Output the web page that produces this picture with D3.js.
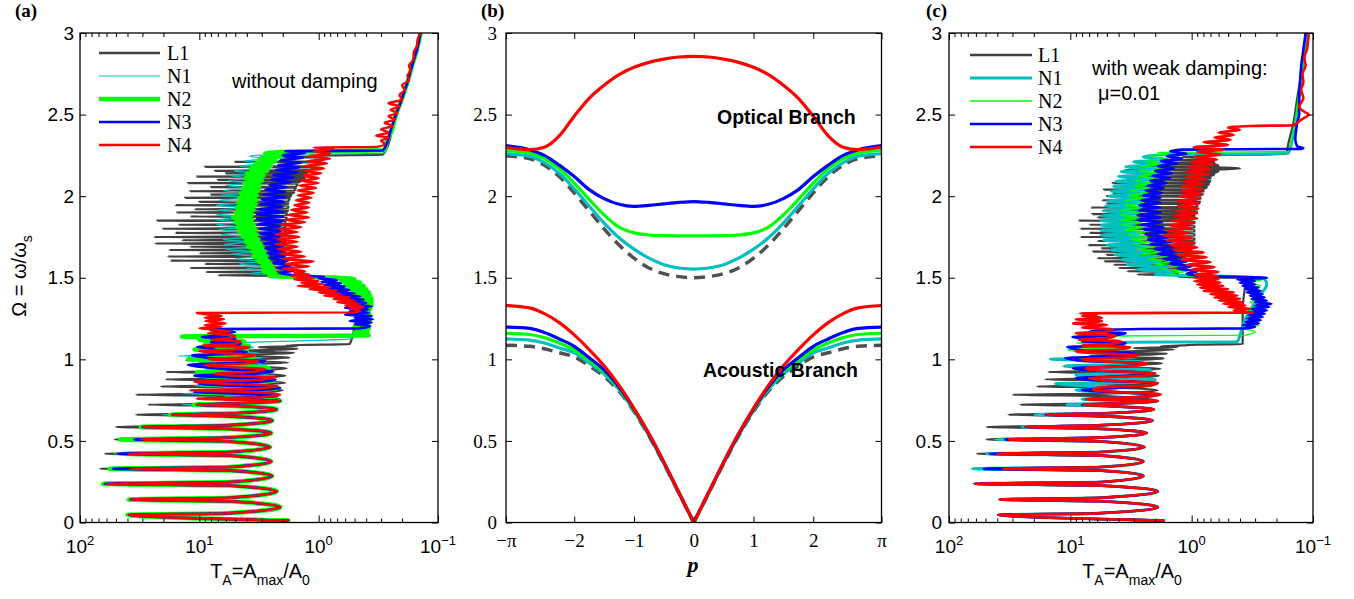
<!DOCTYPE html>
<html><head><meta charset="utf-8">
<script src="https://cdn.jsdelivr.net/npm/d3@7"></script>
<style>body{margin:0;background:#fff}svg{display:block}</style>
</head><body>
<script>
// ---------------- DATA ----------------
const seriesNames = ['L1','N1','N2','N3','N4'];
const seriesColors = ['#404040','#00bfbf','#00ff00','#0000ff','#ff0000'];

// panel (a) / (c): [Omega, T_A]
const a_L1 = [[0.012,1.85],[0.047,40],[0.056,6],[0.094,2.1],[0.13,5.5],[0.141,39],[0.152,5.5],[0.19,2.25],[0.226,5.5],[0.237,66],[0.248,5.5],[0.285,2.45],[0.318,5.5],[0.329,68],[0.34,5.5],[0.374,2.5],[0.41,5.5],[0.421,62],[0.432,5.5],[0.462,2.55],[0.498,6],[0.509,51],[0.52,6],[0.548,2.5],[0.575,6],[0.585,50],[0.595,6],[0.625,2.45],[0.652,6],[0.661,34],[0.67,5],[0.693,2.25],[0.714,5],[0.722,27],[0.73,5],[0.755,2.1],[0.775,5],[0.783,34],[0.79,5],[0.81,2.0],[0.828,5],[0.834,21],[0.84,5],[0.856,1.9],[0.872,5],[0.877,19],[0.883,5],[0.90,1.9],[0.916,5],[0.922,19],[0.928,5],[0.945,1.85],[0.958,5],[0.963,12],[0.968,5],[0.98,1.8],[0.99,5],[0.994,13],[0.999,5],[1.01,1.75],[1.02,4],[1.025,7.4],[1.03,4],[1.04,1.6],[1.047,3.5],[1.052,4.6],[1.057,3],[1.064,1.5],[1.07,2.6],[1.075,3.2],[1.08,1.5],[1.084,1.9],[1.088,1.45],[1.093,0.55],[1.2,0.5],[1.3,0.47],[1.4,0.48],[1.49,0.55],[1.50,1.0],[1.505,1.9],
[1.511,1.9],[1.515,7.0],[1.519,1.9],[1.531,1.9],[1.535,8.8],[1.539,1.9],[1.556,1.9],[1.56,12],[1.564,1.9],[1.581,1.9],[1.585,9],[1.589,1.9],[1.601,1.9],[1.605,17.6],[1.609,1.9],[1.626,1.9],[1.63,18.5],[1.634,1.9],[1.646,1.9],[1.65,10],[1.654,1.9],[1.666,1.9],[1.67,18],[1.674,1.9],[1.686,1.9],[1.69,12],[1.694,1.9],[1.706,1.9],[1.71,23.5],[1.714,1.9],[1.726,1.9],[1.73,14],[1.734,1.9],[1.746,1.9],[1.75,24],[1.754,1.9],[1.771,1.9],[1.775,16],[1.779,1.9],[1.796,1.9],[1.80,20.5],[1.804,1.9],[1.821,1.9],[1.825,15],[1.829,1.9],[1.846,1.9],[1.85,22.5],[1.854,1.9],[1.871,1.85],[1.875,12],[1.879,1.85],[1.896,1.85],[1.90,15.4],[1.904,1.85],[1.916,1.8],[1.92,11],[1.924,1.8],[1.941,1.8],[1.945,16],[1.949,1.8],[1.961,1.8],[1.965,10],[1.969,1.8],[1.986,1.75],[1.99,13.2],[1.994,1.75],[2.006,1.7],[2.01,8],[2.014,1.7],[2.026,1.6],[2.03,12],[2.034,1.6],[2.051,1.55],[2.055,8],[2.059,1.55],[2.076,1.5],[2.08,12.5],[2.084,1.5],[2.096,1.4],[2.10,7],[2.104,1.4],[2.116,1.3],[2.12,10.5],[2.124,1.3],[2.136,1.25],[2.14,6],[2.144,1.25],[2.151,1.2],[2.155,7.4],[2.159,1.2],[2.176,1.1],[2.18,9],[2.184,1.1],[2.206,1.0],[2.21,5],[2.214,1.0],[2.236,0.9],[2.24,3.1],[2.244,0.9],[2.248,1.0],[2.254,0.29],[2.32,0.26],[2.42,0.24],[2.51,0.22],[2.65,0.189],[2.81,0.165],[3.0,0.141]];

const a_N1 = [[0.012,1.8],[0.047,39],[0.056,6],[0.094,2.1],[0.13,5.5],[0.141,38],[0.152,5.5],[0.19,2.25],[0.226,5.5],[0.237,60],[0.248,5.5],[0.285,2.45],[0.318,5.5],[0.329,55],[0.34,5.5],[0.374,2.5],[0.41,5.5],[0.421,53],[0.432,5.5],[0.462,2.55],[0.498,6],[0.509,31],[0.52,6],[0.548,2.5],[0.575,6],[0.585,30],[0.595,6],[0.625,2.45],[0.652,6],[0.661,20.6],[0.67,5],[0.693,2.25],[0.714,5],[0.722,14],[0.73,5],[0.745,2.1],[0.76,5],[0.775,2.3],[0.79,14],[0.80,4],[0.815,2.2],[0.83,6],[0.84,11],[0.85,4],[0.865,2.3],[0.88,6],[0.89,10],[0.9,4],[0.915,2.5],[0.93,6],[0.94,9],[0.95,4],[0.965,2.7],[0.98,6],[0.99,8],[1.0,4],[1.01,3],[1.02,15],[1.03,4.5],[1.04,3.2],[1.055,8],[1.065,4],[1.075,3.5],[1.085,7],[1.095,5.5],[1.10,5.0],[1.125,0.55],[1.135,0.5],[1.2,0.48],[1.3,0.45],[1.4,0.47],[1.48,0.55],[1.50,0.7],[1.51,1.5],[1.525,3.8],[1.54,2.6],[1.555,4.0],[1.57,2.8],[1.585,4.6],[1.6,3.0],[1.615,5.0],[1.63,3.2],[1.645,5.4],[1.66,3.4],[1.675,6.0],[1.69,3.6],[1.705,6.2],[1.72,3.8],[1.735,6.3],[1.75,3.9],[1.765,6.5],[1.78,4.0],[1.795,6.8],[1.81,4.1],[1.825,7.2],[1.84,4.2],[1.855,7.4],[1.87,4.2],[1.885,7.2],[1.90,4.2],[1.915,7.0],[1.93,4.1],[1.945,7.2],[1.96,4.1],[1.975,6.8],[1.99,4.0],[2.005,6.6],[2.02,3.9],[2.035,6.3],[2.05,3.8],[2.065,6.0],[2.08,3.7],[2.095,5.7],[2.11,3.6],[2.125,5.4],[2.14,3.4],[2.155,5.1],[2.17,3.2],[2.185,4.6],[2.2,3.0],[2.215,4.2],[2.23,2.8],[2.245,3.8],[2.255,2.5],[2.262,0.28],[2.32,0.265],[2.4,0.245],[2.5,0.225],[2.6,0.2],[2.7,0.18],[2.8,0.165],[2.9,0.15],[3.0,0.14]];

const a_N2 = [[0.012,1.8],[0.047,40],[0.056,6],[0.094,2.1],[0.13,5.5],[0.141,39],[0.152,5.5],[0.19,2.25],[0.226,5.5],[0.237,64],[0.248,5.5],[0.285,2.45],[0.318,5.5],[0.329,57],[0.34,5.5],[0.374,2.5],[0.41,5.5],[0.421,42],[0.432,5.5],[0.462,2.55],[0.498,6],[0.509,46],[0.52,6],[0.548,2.5],[0.575,6],[0.585,31],[0.595,6],[0.625,2.45],[0.652,6],[0.661,17.5],[0.67,5],[0.693,2.25],[0.714,5],[0.722,11],[0.73,5],[0.745,2.1],[0.76,6],[0.775,2.3],[0.79,5],[0.80,10.2],[0.81,4],[0.825,2.2],[0.84,5],[0.85,9.9],[0.86,4],[0.875,2.4],[0.89,5],[0.90,9],[0.91,4],[0.92,10.5],[0.93,3.5],[0.945,2.6],[0.96,6],[0.97,10],[0.98,4],[0.99,3],[1.0,12.4],[1.01,4.5],[1.02,3.5],[1.03,8],[1.04,5],[1.05,4],[1.06,11],[1.07,5],[1.08,3.8],[1.09,9],[1.10,5],[1.11,4.2],[1.12,10],[1.13,5],[1.14,14],[1.147,0.38],[1.16,0.5],[1.17,0.39],[1.18,0.48],[1.19,0.38],[1.2,0.5],[1.21,0.39],[1.22,0.47],[1.23,0.37],[1.24,0.45],[1.25,0.37],[1.26,0.46],[1.27,0.37],[1.28,0.44],[1.29,0.38],[1.30,0.47],[1.31,0.37],[1.32,0.45],[1.33,0.36],[1.34,0.45],[1.35,0.36],[1.36,0.44],[1.37,0.36],[1.38,0.46],[1.39,0.37],[1.40,0.5],[1.41,0.38],[1.42,0.52],[1.43,0.4],[1.44,0.56],[1.45,0.42],[1.46,0.6],[1.47,0.45],[1.48,0.65],[1.49,0.5],[1.50,0.7],[1.51,2.6],[1.525,2.3],[1.54,2.9],[1.555,2.4],[1.57,3.0],[1.585,2.5],[1.60,3.2],[1.615,2.6],[1.63,3.5],[1.645,2.7],[1.66,3.6],[1.675,2.8],[1.69,3.9],[1.705,3.0],[1.72,4.1],[1.735,3.2],[1.75,4.3],[1.765,3.3],[1.78,4.6],[1.795,3.4],[1.81,4.8],[1.825,3.5],[1.84,5.0],[1.855,3.6],[1.87,5.2],[1.885,3.6],[1.90,5.0],[1.915,3.5],[1.93,4.9],[1.945,3.4],[1.96,4.7],[1.975,3.3],[1.99,4.6],[2.005,3.3],[2.02,4.5],[2.035,3.2],[2.05,4.3],[2.065,3.1],[2.08,4.2],[2.095,3.0],[2.11,4.1],[2.125,2.9],[2.14,4.0],[2.155,2.7],[2.17,3.7],[2.185,2.5],[2.20,3.4],[2.215,2.3],[2.23,3.1],[2.245,2.0],[2.26,2.8],[2.272,1.8],[2.282,0.28],[2.33,0.27],[2.4,0.245],[2.5,0.225],[2.6,0.2],[2.7,0.18],[2.8,0.165],[2.9,0.15],[3.0,0.14]];

const a_N3 = [[0.012,1.8],[0.047,39],[0.056,6],[0.094,2.1],[0.13,5.5],[0.141,38],[0.152,5.5],[0.19,2.25],[0.226,5.5],[0.237,62],[0.248,5.5],[0.285,2.45],[0.318,5.5],[0.329,53],[0.34,5.5],[0.374,2.5],[0.41,5.5],[0.421,48],[0.432,5.5],[0.462,2.55],[0.498,6],[0.509,35],[0.52,6],[0.548,2.5],[0.575,6],[0.585,30],[0.595,6],[0.625,2.45],[0.652,6],[0.661,17],[0.67,5],[0.693,2.25],[0.714,5],[0.722,10.5],[0.73,5],[0.745,2.1],[0.76,6],[0.775,2.2],[0.79,5],[0.80,11],[0.81,4],[0.825,2.1],[0.84,6],[0.85,10],[0.86,3.5],[0.875,2.3],[0.89,6],[0.90,11],[0.91,4],[0.925,2.4],[0.94,6],[0.955,10],[0.967,12.5],[0.978,4.5],[0.99,2.8],[1.0,6],[1.012,9],[1.025,11.5],[1.035,5],[1.045,4],[1.055,7],[1.065,8],[1.075,10.4],[1.085,5],[1.095,4.5],[1.105,8],[1.115,6],[1.125,5],[1.137,9.5],[1.147,5.5],[1.157,7],[1.167,5],[1.177,8],[1.185,8.1],[1.19,0.45],[1.205,0.37],[1.215,0.5],[1.225,0.36],[1.235,0.55],[1.245,0.35],[1.255,0.5],[1.265,0.36],[1.275,0.6],[1.285,0.38],[1.295,0.55],[1.305,0.38],[1.315,0.6],[1.325,0.36],[1.335,0.55],[1.345,0.4],[1.355,0.65],[1.365,0.42],[1.375,0.7],[1.385,0.45],[1.395,0.75],[1.405,0.5],[1.415,0.8],[1.425,0.55],[1.435,0.85],[1.445,0.6],[1.455,0.9],[1.465,0.65],[1.475,0.95],[1.485,0.7],[1.495,1.0],[1.505,0.9],[1.515,1.6],[1.53,2.1],[1.545,1.6],[1.56,2.2],[1.575,1.7],[1.59,2.4],[1.605,1.8],[1.62,2.6],[1.635,1.9],[1.65,2.7],[1.665,2.0],[1.68,2.8],[1.695,2.0],[1.71,2.9],[1.725,2.1],[1.74,3.0],[1.755,2.1],[1.77,3.1],[1.785,2.1],[1.80,3.1],[1.815,2.1],[1.83,3.2],[1.845,2.0],[1.86,3.3],[1.875,2.0],[1.89,3.3],[1.905,2.0],[1.92,3.2],[1.935,2.0],[1.95,3.1],[1.965,1.95],[1.98,3.0],[1.995,1.9],[2.01,2.9],[2.025,1.9],[2.04,2.8],[2.055,1.85],[2.07,2.6],[2.085,1.7],[2.10,2.5],[2.115,1.6],[2.13,2.4],[2.145,1.5],[2.16,2.3],[2.175,1.45],[2.19,2.2],[2.205,1.4],[2.22,2.1],[2.235,1.35],[2.25,2.0],[2.265,1.3],[2.275,1.9],[2.28,0.29],[2.32,0.27],[2.4,0.25],[2.5,0.225],[2.6,0.2],[2.7,0.18],[2.8,0.165],[2.9,0.15],[3.0,0.14]];

const a_N4 = [[0.012,1.8],[0.047,39],[0.056,6],[0.094,2.1],[0.13,5.5],[0.141,38],[0.152,5.5],[0.19,2.25],[0.226,5.5],[0.237,60],[0.248,5.5],[0.285,2.45],[0.318,5.5],[0.329,38],[0.34,5.5],[0.374,2.5],[0.41,5.5],[0.421,39],[0.432,5.5],[0.462,2.55],[0.498,6],[0.509,31],[0.52,6],[0.548,2.5],[0.575,6],[0.585,30],[0.595,6],[0.625,2.45],[0.652,6],[0.661,17],[0.67,5],[0.693,2.25],[0.714,5],[0.722,10.5],[0.73,5],[0.745,2.1],[0.759,10.5],[0.768,3],[0.783,2.1],[0.80,4],[0.81,12],[0.82,3.5],[0.836,2.2],[0.85,6],[0.862,11],[0.875,3.2],[0.89,2.3],[0.9,5],[0.912,7.6],[0.925,3.5],[0.94,2.8],[0.955,6],[0.965,9],[0.975,4],[0.99,3.2],[1.0,8.5],[1.012,4.5],[1.025,3.4],[1.04,7],[1.05,10],[1.06,5],[1.075,3.8],[1.085,9.5],[1.095,5],[1.11,4.5],[1.12,8],[1.13,5.5],[1.145,5],[1.16,8.5],[1.17,5.5],[1.18,7],[1.19,10],[1.2,6.5],[1.21,9],[1.22,6],[1.235,8.9],[1.245,6.2],[1.255,9],[1.265,6.5],[1.275,8.5],[1.284,10.5],[1.288,0.5],[1.30,0.45],[1.31,0.55],[1.32,0.42],[1.33,0.6],[1.34,0.45],[1.35,0.7],[1.36,0.5],[1.37,0.75],[1.38,0.55],[1.39,0.9],[1.40,0.65],[1.41,1.0],[1.42,0.7],[1.43,1.2],[1.44,0.8],[1.45,1.5],[1.46,0.9],[1.47,1.4],[1.48,1.0],[1.49,1.6],[1.50,1.1],[1.51,1.7],[1.52,1.2],[1.53,1.6],[1.54,1.3],[1.555,2.0],[1.57,1.2],[1.585,1.9],[1.60,1.1],[1.615,2.0],[1.63,1.3],[1.645,2.1],[1.66,1.4],[1.675,2.2],[1.69,1.5],[1.705,2.3],[1.72,1.5],[1.735,2.2],[1.75,1.45],[1.765,2.3],[1.78,1.5],[1.795,2.1],[1.81,1.4],[1.825,2.0],[1.84,1.3],[1.855,1.9],[1.87,1.2],[1.885,1.8],[1.90,1.25],[1.915,1.7],[1.93,1.2],[1.945,1.6],[1.96,1.2],[1.975,1.55],[1.99,1.15],[2.005,1.5],[2.02,1.1],[2.035,1.5],[2.05,1.05],[2.065,1.45],[2.08,1.0],[2.095,1.4],[2.11,1.0],[2.125,1.35],[2.14,0.95],[2.155,1.3],[2.17,0.9],[2.185,1.3],[2.2,0.85],[2.215,1.25],[2.23,0.8],[2.245,1.2],[2.26,0.8],[2.275,1.1],[2.29,0.75],[2.298,1.1],[2.302,0.33],[2.32,0.28],[2.34,0.30],[2.36,0.26],[2.37,0.33],[2.39,0.26],[2.41,0.3],[2.43,0.24],[2.45,0.28],[2.47,0.23],[2.49,0.26],[2.51,0.22],[2.53,0.25],[2.55,0.21],[2.57,0.26],[2.59,0.2],[2.62,0.21],[2.65,0.19],[2.68,0.2],[2.71,0.175],[2.74,0.18],[2.77,0.17],[2.8,0.175],[2.84,0.16],[2.88,0.16],[2.92,0.15],[2.96,0.148],[3.0,0.14]];

const c_L1 = [[0.012,1.75],[0.047,40],[0.056,6],[0.094,1.9],[0.13,5.5],[0.141,39],[0.152,5.5],[0.19,1.9],[0.226,5.5],[0.237,63],[0.248,5.5],[0.285,2.5],[0.318,5.5],[0.329,64],[0.34,5.5],[0.374,2.5],[0.41,5.5],[0.421,59],[0.432,5.5],[0.462,2.45],[0.498,6],[0.509,49],[0.52,6],[0.548,2.35],[0.575,6],[0.585,49],[0.595,6],[0.625,2.1],[0.652,6],[0.661,32.5],[0.67,5],[0.693,2.05],[0.714,5],[0.722,25.9],[0.73,5],[0.745,1.9],[0.775,5],[0.783,30],[0.79,5],[0.81,1.9],[0.828,5],[0.834,18.8],[0.84,5],[0.856,1.9],[0.872,5],[0.877,16.1],[0.883,5],[0.90,1.85],[0.916,5],[0.922,15.2],[0.928,5],[0.942,1.8],[0.952,5],[0.957,11.4],[0.962,5],[0.975,1.75],[0.985,5],[0.99,9],[0.995,4],[1.005,1.7],[1.015,4],[1.02,7],[1.025,3.5],[1.035,1.6],[1.04,3.2],[1.045,4.5],[1.05,2.8],[1.06,1.4],[1.065,2.4],[1.07,3.0],[1.075,1.3],[1.08,1.8],[1.085,1.2],[1.09,0.9],[1.093,0.38],[1.2,0.38],[1.3,0.38],[1.4,0.37],[1.48,0.36],[1.50,0.4],[1.505,1.3],
[1.516,1.3],[1.52,2.8],[1.524,1.3],[1.536,1.3],[1.54,3.4],[1.544,1.3],[1.556,1.3],[1.56,4.0],[1.564,1.3],[1.576,1.25],[1.58,4.4],[1.584,1.25],[1.596,1.2],[1.60,5.2],[1.604,1.2],[1.616,1.1],[1.62,6.0],[1.624,1.1],[1.636,1.1],[1.64,5],[1.644,1.1],[1.656,1.05],[1.66,6.5],[1.664,1.05],[1.676,1.0],[1.68,5.5],[1.684,1.0],[1.696,0.95],[1.70,7.2],[1.704,0.95],[1.721,0.95],[1.725,6],[1.729,0.95],[1.746,0.95],[1.75,8.3],[1.754,0.95],[1.771,0.95],[1.775,7],[1.779,0.95],[1.796,0.95],[1.80,8.3],[1.804,0.95],[1.821,0.95],[1.825,7],[1.829,0.95],[1.846,0.95],[1.85,8.6],[1.854,0.95],[1.866,0.95],[1.87,6],[1.874,0.95],[1.886,0.95],[1.89,6.6],[1.894,0.95],[1.906,0.9],[1.91,5.5],[1.914,0.9],[1.926,0.9],[1.93,6.8],[1.934,0.9],[1.951,0.9],[1.955,5],[1.959,0.9],[1.971,0.85],[1.975,5.5],[1.979,0.85],[1.996,0.85],[2.0,5.0],[2.004,0.85],[2.016,0.8],[2.02,4.5],[2.024,0.8],[2.036,0.8],[2.04,5.3],[2.044,0.8],[2.056,0.75],[2.06,4],[2.064,0.75],[2.076,0.72],[2.08,4.5],[2.084,0.72],[2.096,0.7],[2.10,3.5],[2.104,0.7],[2.116,0.7],[2.12,4.0],[2.124,0.7],[2.136,0.65],[2.14,3],[2.144,0.65],[2.156,0.6],[2.16,3.5],[2.164,0.6],[2.17,0.4],[2.176,0.6],[2.18,3.0],[2.184,0.6],[2.196,0.65],[2.20,2.2],[2.204,0.65],[2.216,0.7],[2.22,1.8],[2.224,0.7],[2.236,0.75],[2.24,1.2],[2.244,0.75],[2.25,0.8],[2.258,0.167],[2.32,0.16],[2.45,0.145],[2.6,0.135],[2.75,0.125],[2.9,0.118],[3.0,0.114]];

const c_N1 = [[0.012,1.7],[0.047,39],[0.056,6],[0.094,1.9],[0.13,5.5],[0.141,38],[0.152,5.5],[0.19,1.9],[0.226,5.5],[0.237,61],[0.248,5.5],[0.285,2.5],[0.318,5.5],[0.329,64],[0.34,5.5],[0.374,2.5],[0.41,5.5],[0.421,49],[0.432,5.5],[0.462,2.45],[0.498,6],[0.509,40],[0.52,6],[0.548,2.35],[0.575,6],[0.585,25],[0.595,6],[0.625,2.1],[0.652,6],[0.661,19.5],[0.67,5],[0.693,2.05],[0.714,5],[0.722,10.7],[0.73,4],[0.745,1.9],[0.755,8],[0.77,2.6],[0.785,1.9],[0.80,5],[0.812,9],[0.826,4],[0.85,13.3],[0.86,3],[0.875,2.0],[0.89,6],[0.905,9],[0.92,3],[0.935,2.2],[0.95,8],[0.96,11],[0.97,3.5],[0.985,2.6],[0.995,8],[1.0,14.6],[1.01,4],[1.025,3],[1.04,7],[1.05,9],[1.06,4],[1.075,3.5],[1.085,7],[1.095,5],[1.103,6.0],[1.108,0.42],[1.15,0.4],[1.2,0.38],[1.25,0.36],[1.3,0.33],[1.35,0.3],[1.4,0.27],[1.43,0.25],[1.46,0.24],[1.49,0.25],[1.50,0.3],[1.51,0.6],[1.52,2.0],[1.535,1.4],[1.55,2.8],[1.565,1.6],[1.58,3.4],[1.595,1.8],[1.61,3.8],[1.625,2.0],[1.64,4.3],[1.655,2.2],[1.67,4.7],[1.685,2.4],[1.70,5.0],[1.715,2.5],[1.73,5.3],[1.745,2.6],[1.76,5.6],[1.775,2.6],[1.79,5.6],[1.805,2.7],[1.82,5.6],[1.835,2.8],[1.85,5.6],[1.865,2.8],[1.88,5.5],[1.895,2.7],[1.91,5.3],[1.925,2.6],[1.94,5.1],[1.955,2.5],[1.97,4.9],[1.985,2.4],[2.0,4.8],[2.015,2.3],[2.03,4.6],[2.045,2.2],[2.06,4.4],[2.075,2.1],[2.09,4.2],[2.105,2.0],[2.12,4.0],[2.135,1.9],[2.15,3.8],[2.165,1.8],[2.18,3.5],[2.195,1.7],[2.21,3.0],[2.225,1.6],[2.24,2.5],[2.255,1.5],[2.262,0.16],[2.35,0.148],[2.45,0.14],[2.55,0.133],[2.65,0.128],[2.75,0.123],[2.85,0.118],[3.0,0.113]];

const c_N2 = [[0.012,1.7],[0.047,39],[0.056,6],[0.094,1.9],[0.13,5.5],[0.141,38],[0.152,5.5],[0.19,1.9],[0.226,5.5],[0.237,61],[0.248,5.5],[0.285,2.5],[0.318,5.5],[0.329,55],[0.34,5.5],[0.374,2.5],[0.41,5.5],[0.421,45],[0.432,5.5],[0.462,2.45],[0.498,6],[0.509,43],[0.52,6],[0.548,2.35],[0.575,6],[0.585,24],[0.595,6],[0.625,2.1],[0.652,6],[0.661,16],[0.67,5],[0.693,2.05],[0.714,5],[0.722,8],[0.73,4],[0.745,1.9],[0.755,6.5],[0.77,2.6],[0.785,1.9],[0.80,4.5],[0.812,7],[0.826,4],[0.84,2.2],[0.855,2.0],[0.87,6],[0.885,8.5],[0.9,3],[0.915,2.1],[0.93,6],[0.945,9],[0.96,3.2],[0.975,2.5],[0.99,7],[1.0,10],[1.015,4],[1.03,3],[1.045,8],[1.06,10.5],[1.07,4.5],[1.085,3.5],[1.1,9],[1.11,5],[1.12,4],[1.13,8],[1.143,5.0],[1.148,0.36],[1.17,0.3],[1.19,0.38],[1.21,0.28],[1.23,0.36],[1.25,0.28],[1.27,0.35],[1.29,0.27],[1.31,0.35],[1.33,0.27],[1.35,0.33],[1.37,0.27],[1.39,0.33],[1.41,0.28],[1.43,0.34],[1.45,0.27],[1.47,0.33],[1.49,0.26],[1.50,0.34],[1.51,1.0],[1.525,1.5],[1.54,1.1],[1.555,1.8],[1.57,1.3],[1.585,2.0],[1.6,1.5],[1.615,2.3],[1.63,1.6],[1.645,2.6],[1.66,1.8],[1.675,2.8],[1.69,2.0],[1.705,3.0],[1.72,2.2],[1.735,3.2],[1.75,2.3],[1.765,3.4],[1.78,2.4],[1.795,3.6],[1.81,2.5],[1.825,3.8],[1.84,2.6],[1.855,3.9],[1.87,2.7],[1.885,3.9],[1.90,2.7],[1.915,3.8],[1.93,2.6],[1.945,3.6],[1.96,2.5],[1.975,3.5],[1.99,2.4],[2.005,3.4],[2.02,2.3],[2.035,3.2],[2.05,2.2],[2.065,3.0],[2.08,2.1],[2.095,2.9],[2.11,2.0],[2.125,2.8],[2.14,1.9],[2.155,2.7],[2.17,1.8],[2.185,2.6],[2.2,1.8],[2.215,2.4],[2.23,1.7],[2.245,2.2],[2.26,1.6],[2.268,1.9],[2.273,0.16],[2.35,0.15],[2.45,0.14],[2.55,0.135],[2.65,0.13],[2.75,0.125],[2.85,0.12],[3.0,0.115]];

const c_N3 = [[0.012,1.7],[0.047,39],[0.056,6],[0.094,1.9],[0.13,5.5],[0.141,38],[0.152,5.5],[0.19,1.9],[0.226,5.5],[0.237,61],[0.248,5.5],[0.285,2.5],[0.318,5.5],[0.329,52],[0.34,5.5],[0.374,2.5],[0.41,5.5],[0.421,46],[0.432,5.5],[0.462,2.45],[0.498,6],[0.509,34.5],[0.52,6],[0.548,2.35],[0.575,6],[0.585,23.5],[0.595,6],[0.625,2.1],[0.652,6],[0.661,16],[0.67,5],[0.693,2.05],[0.714,5],[0.722,8],[0.73,4],[0.745,1.9],[0.755,7],[0.77,2.6],[0.785,1.9],[0.80,4.5],[0.812,8],[0.826,4],[0.84,2.2],[0.855,2.0],[0.87,6],[0.885,9],[0.9,3],[0.915,2.0],[0.93,6],[0.945,9.5],[0.96,3.2],[0.975,2.4],[0.99,7],[1.008,11],[1.02,4],[1.035,3],[1.05,7],[1.062,9],[1.075,10.6],[1.085,4.5],[1.1,3.5],[1.11,8],[1.12,5],[1.137,9.6],[1.147,4.5],[1.16,3.5],[1.17,7],[1.18,5],[1.186,2.7],[1.19,0.37],[1.20,0.3],[1.21,0.38],[1.22,0.28],[1.23,0.36],[1.24,0.27],[1.25,0.35],[1.26,0.26],[1.27,0.34],[1.28,0.25],[1.29,0.33],[1.30,0.24],[1.31,0.32],[1.32,0.23],[1.33,0.3],[1.34,0.22],[1.35,0.3],[1.36,0.24],[1.37,0.32],[1.38,0.25],[1.39,0.33],[1.40,0.26],[1.41,0.35],[1.42,0.27],[1.43,0.36],[1.44,0.28],[1.45,0.38],[1.46,0.3],[1.47,0.4],[1.48,0.3],[1.49,0.42],[1.50,0.24],[1.51,0.8],[1.525,1.1],[1.54,0.9],[1.555,1.3],[1.57,1.0],[1.585,1.5],[1.6,1.1],[1.615,1.7],[1.63,1.2],[1.645,1.9],[1.66,1.3],[1.675,2.0],[1.69,1.4],[1.705,2.2],[1.72,1.45],[1.735,2.3],[1.75,1.5],[1.765,2.4],[1.78,1.6],[1.795,2.5],[1.81,1.7],[1.825,2.6],[1.84,1.75],[1.855,2.8],[1.87,1.8],[1.885,2.8],[1.90,1.8],[1.915,2.7],[1.93,1.8],[1.945,2.7],[1.96,1.8],[1.975,2.6],[1.99,1.8],[2.005,2.5],[2.02,1.75],[2.035,2.4],[2.05,1.7],[2.065,2.3],[2.08,1.6],[2.095,2.2],[2.11,1.5],[2.125,2.1],[2.14,1.45],[2.155,2.0],[2.17,1.4],[2.185,1.9],[2.2,1.3],[2.215,1.8],[2.23,1.2],[2.245,1.6],[2.26,1.1],[2.275,1.5],[2.285,1.2],[2.29,0.125],[2.295,0.12],[2.305,0.135],[2.35,0.14],[2.4,0.138],[2.45,0.135],[2.5,0.13],[2.6,0.13],[2.7,0.128],[2.8,0.125],[2.9,0.12],[3.0,0.115]];

const c_N4 = [[0.012,1.7],[0.047,39],[0.056,6],[0.094,1.9],[0.13,5.5],[0.141,38],[0.152,5.5],[0.19,1.9],[0.226,5.5],[0.237,61],[0.248,5.5],[0.285,2.5],[0.318,5.5],[0.329,36],[0.34,5.5],[0.374,2.5],[0.41,5.5],[0.421,40],[0.432,5.5],[0.462,2.45],[0.498,6],[0.509,32],[0.52,6],[0.548,2.35],[0.575,6],[0.585,23],[0.595,6],[0.625,2.1],[0.652,6],[0.661,15.6],[0.67,5],[0.693,2.05],[0.714,5],[0.722,7.8],[0.73,4],[0.745,1.9],[0.755,7.5],[0.77,2.5],[0.785,1.8],[0.80,4],[0.812,6.5],[0.826,5.9],[0.84,2.2],[0.855,1.9],[0.87,5],[0.885,7],[0.9,2.5],[0.915,2.0],[0.93,5.5],[0.945,7.5],[0.96,3],[0.975,2.3],[0.99,6],[1.0,8],[1.012,3.5],[1.025,2.8],[1.04,7],[1.05,9],[1.06,4],[1.075,3.2],[1.085,8],[1.095,4.5],[1.11,3.8],[1.12,8.5],[1.13,5],[1.145,4.2],[1.16,9],[1.17,5],[1.185,4.5],[1.195,8],[1.21,5],[1.22,9.5],[1.235,5.5],[1.245,9],[1.255,5.5],[1.265,8],[1.275,6],[1.282,8.3],[1.287,0.31],[1.30,0.45],[1.31,0.33],[1.32,0.5],[1.33,0.36],[1.34,0.55],[1.35,0.38],[1.36,0.6],[1.37,0.4],[1.38,0.65],[1.39,0.42],[1.40,0.7],[1.41,0.45],[1.42,0.8],[1.43,0.5],[1.44,0.85],[1.45,0.55],[1.46,0.9],[1.47,0.58],[1.48,0.95],[1.49,0.6],[1.50,0.95],[1.51,0.6],[1.52,0.95],[1.535,0.6],[1.55,1.0],[1.565,0.65],[1.58,1.1],[1.595,0.7],[1.61,1.2],[1.625,0.75],[1.64,1.3],[1.655,0.8],[1.67,1.4],[1.685,0.9],[1.70,1.5],[1.715,0.95],[1.73,1.6],[1.745,1.0],[1.76,1.7],[1.775,1.08],[1.79,1.6],[1.805,1.0],[1.82,1.5],[1.835,0.95],[1.85,1.45],[1.865,0.9],[1.88,1.4],[1.895,0.9],[1.91,1.35],[1.925,0.88],[1.94,1.3],[1.955,0.86],[1.97,1.3],[1.985,0.85],[2.0,1.25],[2.015,0.84],[2.03,1.23],[2.045,0.82],[2.06,1.2],[2.075,0.8],[2.09,1.15],[2.105,0.76],[2.12,1.12],[2.135,0.72],[2.15,1.1],[2.165,0.7],[2.18,1.08],[2.195,0.66],[2.21,1.0],[2.225,0.62],[2.24,0.95],[2.255,0.58],[2.27,0.9],[2.285,0.55],[2.30,0.96],[2.315,0.5],[2.33,0.8],[2.345,0.48],[2.36,0.65],[2.375,0.45],[2.39,0.6],[2.405,0.4],[2.42,0.5],[2.43,0.33],[2.435,0.145],[2.46,0.13],[2.48,0.118],[2.5,0.108],[2.52,0.12],[2.55,0.13],[2.6,0.12],[2.65,0.125],[2.7,0.12],[2.75,0.122],[2.8,0.115],[2.85,0.118],[2.9,0.112],[2.95,0.11],[3.0,0.108]];

// panel (b): dispersion curves
const pGrid = [-Math.PI,-2.75,-2.5,-2.25,-2,-1.75,-1.5,-1.25,-1,-0.75,-0.5,-0.25,0,0.25,0.5,0.75,1,1.25,1.5,1.75,2,2.25,2.5,2.75,Math.PI];
const optL1 = [2.247,2.23,2.19,2.12,2.02,1.91,1.80,1.70,1.62,1.56,1.525,1.507,1.50,1.507,1.525,1.56,1.62,1.70,1.80,1.91,2.02,2.12,2.19,2.23,2.247];
const optN1 = [2.26,2.245,2.205,2.14,2.045,1.94,1.835,1.745,1.675,1.62,1.58,1.56,1.553,1.56,1.58,1.62,1.675,1.745,1.835,1.94,2.045,2.14,2.205,2.245,2.26];
const optN2 = [2.28,2.265,2.23,2.17,2.08,1.98,1.885,1.81,1.775,1.762,1.758,1.757,1.757,1.757,1.758,1.762,1.775,1.81,1.885,1.98,2.08,2.17,2.23,2.265,2.28];
const optN3 = [2.31,2.285,2.25,2.19,2.12,2.04,1.985,1.95,1.937,1.943,1.953,1.962,1.967,1.962,1.953,1.943,1.937,1.95,1.985,2.04,2.12,2.19,2.25,2.285,2.31];
const optN4 = [2.30,2.285,2.30,2.37,2.49,2.60,2.68,2.745,2.79,2.82,2.84,2.853,2.857,2.853,2.84,2.82,2.79,2.745,2.68,2.60,2.49,2.37,2.30,2.285,2.30];
const acoL1 = [1.086,1.08,1.065,1.04,1.015,0.96,0.895,0.805,0.68,0.53,0.36,0.18,0,0.18,0.36,0.53,0.68,0.805,0.895,0.96,1.015,1.04,1.065,1.08,1.086];
const acoN1 = [1.125,1.118,1.10,1.07,1.04,0.978,0.91,0.815,0.685,0.535,0.364,0.182,0,0.182,0.364,0.535,0.685,0.815,0.91,0.978,1.04,1.07,1.10,1.118,1.125];
const acoN2 = [1.16,1.152,1.133,1.10,1.058,0.995,0.925,0.825,0.69,0.538,0.366,0.183,0,0.183,0.366,0.538,0.69,0.825,0.925,0.995,1.058,1.10,1.133,1.152,1.16];
const acoN3 = [1.198,1.19,1.165,1.125,1.08,1.01,0.935,0.83,0.695,0.54,0.368,0.184,0,0.184,0.368,0.54,0.695,0.83,0.935,1.01,1.08,1.125,1.165,1.19,1.198];
const acoN4 = [1.33,1.315,1.28,1.225,1.15,1.06,0.96,0.84,0.70,0.545,0.37,0.185,0,0.185,0.37,0.545,0.70,0.84,0.96,1.06,1.15,1.225,1.28,1.315,1.33];

// ticks
const yTicks = [0,0.5,1,1.5,2,2.5,3];
const logMajor = [100,10,1,0.1];
const logLabels = [['10','2'],['10','1'],['10','0'],['10','\u22121']];
const logMinor = [0.2,0.3,0.4,0.5,0.6,0.7,0.8,0.9,2,3,4,5,6,7,8,9,20,30,40,50,60,70,80,90];
const pTicks = [-Math.PI,-2,-1,0,1,2,Math.PI];
const pLabels = ['\u2212\u03c0','\u22122','\u22121','0','1','2','\u03c0'];

// ---------------- DRAW ----------------
const W = 1354, H = 599, yTop = 33, yBot = 522.5;
const SANS = "'Liberation Sans', Arial, sans-serif";
const SERIF = "'Liberation Serif', 'Times New Roman', serif";
const svg = d3.select('body').append('svg').attr('width', W).attr('height', H);
const yS = d3.scaleLinear().domain([0,3]).range([yBot, yTop]);
const xA = d3.scaleLog().domain([100,0.1]).range([80,438]);
const xB = d3.scaleLinear().domain([-Math.PI, Math.PI]).range([506,881.5]);
const xC = d3.scaleLog().domain([100,0.1]).range([949,1313]);

const defs = svg.append('defs');
function clip(id, x0, x1){
  defs.append('clipPath').attr('id', id).append('rect')
    .attr('x', x0).attr('y', yTop).attr('width', x1-x0).attr('height', yBot-yTop);
}
clip('clipA',80,438); clip('clipB',506,881.5); clip('clipC',949,1313);

function yAxes(x0, x1, font, pad){
  const gl = svg.append('g').attr('transform', `translate(${x0},0)`)
    .call(d3.axisLeft(yS).tickValues(yTicks).tickSize(-6).tickSizeOuter(0).tickPadding(pad).tickFormat(d3.format('~g')));
  gl.select('.domain').remove();
  gl.selectAll('text').attr('font-family', font).attr('font-size', 19).attr('fill','#000');
  const gr = svg.append('g').attr('transform', `translate(${x1},0)`)
    .call(d3.axisRight(yS).tickValues(yTicks).tickSize(-6).tickSizeOuter(0).tickFormat(''));
  gr.select('.domain').remove();
}
function frame(x0, x1){
  svg.append('rect').attr('x', x0).attr('y', yTop).attr('width', x1-x0).attr('height', yBot-yTop)
    .attr('fill','none').attr('stroke','#000').attr('stroke-width',1.3);
}
function logAxes(x){
  [[d3.axisBottom, yBot],[d3.axisTop, yTop]].forEach(([ax, yy]) => {
    const g1 = svg.append('g').attr('transform', `translate(0,${yy})`)
      .call(ax(x).tickValues(logMajor).tickSize(-7).tickSizeOuter(0).tickFormat(''));
    g1.select('.domain').remove();
    const g2 = svg.append('g').attr('transform', `translate(0,${yy})`)
      .call(ax(x).tickValues(logMinor).tickSize(-4).tickSizeOuter(0).tickFormat(''));
    g2.select('.domain').remove();
  });
  logMajor.forEach((v, i) => {
    const t = svg.append('text').attr('x', x(v)).attr('y', 553).attr('text-anchor','middle')
      .attr('font-family', SANS).attr('font-size', 19).attr('fill','#000');
    t.append('tspan').text(logLabels[i][0]);
    t.append('tspan').attr('dy', -8).attr('font-size', 13).text(logLabels[i][1]);
  });
}

function transPanel(x, clipId, data, widths){
  const line = d3.line().x(d => x(d[1])).y(d => yS(d[0])).curve(d3.curveMonotoneY);
  const g = svg.append('g').attr('clip-path', `url(#${clipId})`);
  data.forEach((s, i) => {
    g.append('path').attr('d', line(s)).attr('fill','none')
      .attr('stroke', seriesColors[i]).attr('stroke-width', widths[i])
      .attr('stroke-linejoin','round').attr('stroke-linecap','round');
  });
}
function legend(x0, x1, xt, ys, widths){
  seriesNames.forEach((n, i) => {
    svg.append('line').attr('x1', x0).attr('x2', x1).attr('y1', ys[i]).attr('y2', ys[i])
      .attr('stroke', seriesColors[i]).attr('stroke-width', widths[i]);
    svg.append('text').attr('x', xt).attr('y', ys[i] + 7).attr('font-family', SERIF)
      .attr('font-size', 20).attr('fill','#000').text(n);
  });
}
function xTitle(cx){
  const t = svg.append('text').attr('x', cx).attr('y', 578).attr('text-anchor','middle')
    .attr('font-family', SANS).attr('font-size', 20).attr('fill','#000');
  t.append('tspan').text('T');
  t.append('tspan').attr('dy', 7).attr('font-size', 14).text('A');
  t.append('tspan').attr('dy', -7).text('=A');
  t.append('tspan').attr('dy', 7).attr('font-size', 14).text('max');
  t.append('tspan').attr('dy', -7).text('/A');
  t.append('tspan').attr('dy', 7).attr('font-size', 14).text('0');
}

// ---- panel (a)
transPanel(xA, 'clipA', [a_L1, a_N1, a_N2, a_N3, a_N4], [2.2, 1.2, 4.5, 2.6, 2.4]);
frame(80, 438); yAxes(80, 438, SANS, 6); logAxes(xA);
legend(99, 160, 167, [53, 76, 99, 122, 145], [2.5, 1.2, 4.5, 2.6, 2.4]);
svg.append('text').attr('x', 232).attr('y', 88).attr('font-family', SANS).attr('font-size', 20).text('without damping');
xTitle(260);

// ---- panel (c)
transPanel(xC, 'clipC', [c_L1, c_N1, c_N2, c_N3, c_N4], [2.2, 3.0, 1.3, 2.6, 2.6]);
frame(949, 1313); yAxes(949, 1313, SANS, 7); logAxes(xC);
legend(970, 1032, 1038, [55, 78, 101, 124, 147], [2.5, 3.0, 1.3, 2.6, 2.6]);
svg.append('text').attr('x', 1092).attr('y', 75).attr('font-family', SANS).attr('font-size', 20).text('with weak damping:');
svg.append('text').attr('x', 1098).attr('y', 100).attr('font-family', SANS).attr('font-size', 20).text('\u03bc=0.01');
xTitle(1132);

// ---- panel (b)
{
  const pts = arr => pGrid.map((p, i) => [p, arr[i]]);
  const line = d3.line().x(d => xB(d[0])).y(d => yS(d[1])).curve(d3.curveMonotoneX);
  const g = svg.append('g').attr('clip-path','url(#clipB)');
  const opt = [optL1, optN1, optN2, optN3, optN4];
  const aco = [acoL1, acoN1, acoN2, acoN3, acoN4];
  for (let i = 0; i < 5; i++) {
    const style = p => p.attr('fill','none').attr('stroke', i === 0 ? '#505050' : seriesColors[i])
      .attr('stroke-width', i === 0 ? 3.5 : 3.2).attr('stroke-dasharray', i === 0 ? '11,7' : null);
    style(g.append('path').attr('d', line(pts(opt[i]))));
    const a = pts(aco[i]);
    style(g.append('path').attr('d', line(a.filter(d => d[0] <= 0))));
    style(g.append('path').attr('d', line(a.filter(d => d[0] >= 0))));
  }
  frame(506, 881.5); yAxes(506, 881.5, SERIF, 9);
  [[d3.axisBottom, yBot],[d3.axisTop, yTop]].forEach(([ax, yy], k) => {
    const gg = svg.append('g').attr('transform', `translate(0,${yy})`)
      .call(ax(xB).tickValues(pTicks).tickSize(-6).tickSizeOuter(0).tickPadding(11)
        .tickFormat(k === 0 ? ((d, i) => pLabels[i]) : ''));
    gg.select('.domain').remove();
    gg.selectAll('text').attr('font-family', SERIF).attr('font-size', 19).attr('fill','#000');
  });
  svg.append('text').attr('x', 717).attr('y', 124).attr('font-family', SANS).attr('font-weight','bold')
    .attr('font-size', 19.5).text('Optical Branch');
  svg.append('text').attr('x', 703).attr('y', 377).attr('font-family', SANS).attr('font-weight','bold')
    .attr('font-size', 19.5).text('Acoustic Branch');
  svg.append('text').attr('x', 693).attr('y', 572).attr('text-anchor','middle').attr('font-family', SERIF)
    .attr('font-style','italic').attr('font-weight','bold').attr('font-size', 22).text('p');
}

// ---- y title and panel labels
svg.append('text').attr('transform','translate(26,276) rotate(-90)').attr('text-anchor','middle')
  .attr('font-family', SANS).attr('font-size', 20).attr('fill','#000')
  .call(t => { t.append('tspan').text('\u03a9 = \u03c9/\u03c9'); t.append('tspan').attr('dy', 6).attr('font-size', 14).text('s'); });
[['(a)', 15], ['(b)', 481], ['(c)', 926]].forEach(([s, x]) => {
  svg.append('text').attr('x', x).attr('y', 17).attr('font-family', SERIF).attr('font-weight','bold')
    .attr('font-size', 19).text(s);
});
</script>
</body></html>
